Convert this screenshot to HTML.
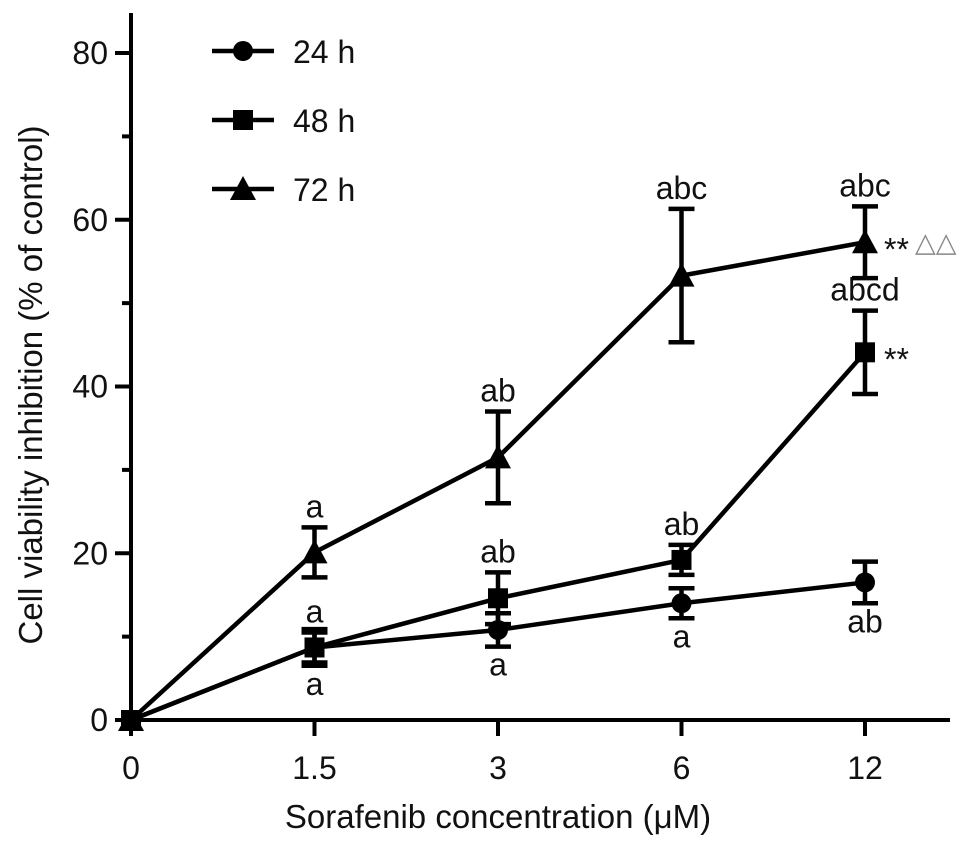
<!DOCTYPE html>
<html><head><meta charset="utf-8"><style>
html,body{margin:0;padding:0;background:#fff;}
svg text{font-family:"Liberation Sans",Arial,sans-serif;fill:#111;}
</style></head><body>
<svg id="chart" width="970" height="842" viewBox="0 0 970 842" xmlns="http://www.w3.org/2000/svg">
<g id="axes"></g>
<g id="series"></g>
<g id="legend"></g>
<text x="498" y="828" font-size="33" text-anchor="middle">Sorafenib concentration (μM)</text>
<text transform="translate(42,385) rotate(-90)" font-size="33" text-anchor="middle">Cell viability inhibition (% of control)</text>
</svg>
<script>
const categories = ["0","1.5","3","6","12"];
const yTicks = [0,20,40,60,80];
const yMinorTicks = [10,30,50,70];
const seriesNames = ["24 h","48 h","72 h"];
const values24 = [0, 8.7, 10.8, 14.0, 16.5];
const errors24 = [0, 2.2, 2.0, 1.8, 2.5];
const values48 = [0, 8.7, 14.6, 19.2, 44.1];
const errors48 = [0, 1.8, 3.1, 1.8, 5.0];
const values72 = [0, 20.1, 31.5, 53.3, 57.3];
const errors72 = [0, 3.0, 5.5, 8.0, 4.3];
const labels24 = ["", "a", "a", "a", "ab"];
const labels48 = ["", "a", "ab", "ab", "abcd"];
const labels72 = ["", "a", "ab", "abc", "abc"];
const NS = "http://www.w3.org/2000/svg";
const FS = 32;
const x = i => 131 + i * 183.5;
const y = v => 720 - v * 8.3375;
function mk(parent, tag, attrs){const e=document.createElementNS(NS,tag);for(const k in attrs)e.setAttribute(k,attrs[k]);parent.appendChild(e);return e;}
const axes=document.getElementById('axes');
let el=mk(axes,'line',{x1:131,y1:13,x2:131,y2:720,stroke:'#000','stroke-width':4});


el=mk(axes,'line',{x1:129,y1:720,x2:950,y2:720,stroke:'#000','stroke-width':4});


yTicks.forEach(t=>{
  let l=mk(axes,'line',{x1:115,y1:y(t),x2:131,y2:y(t),stroke:'#000','stroke-width':4});
  
  
  let tx=mk(axes,'text',{x:108,y:y(t)+11,'font-size':FS,'text-anchor':'end'});tx.textContent=t;
  
  
});
yMinorTicks.forEach(t=>{
  let l=mk(axes,'line',{x1:122,y1:y(t),x2:131,y2:y(t),stroke:'#000','stroke-width':4});
  
  
});
categories.forEach((c,i)=>{
  let l=mk(axes,'line',{x1:x(i),y1:720,x2:x(i),y2:736,stroke:'#000','stroke-width':4});
  
  
  let tx=mk(axes,'text',{x:x(i),y:779,'font-size':FS,'text-anchor':'middle'});tx.textContent=c;
  
  
});
function marker(g,shape,cx,cy){
  if(shape==='circle')return mk(g,'circle',{cx:cx,cy:cy,r:10,fill:'#000'});
  if(shape==='square')return mk(g,'rect',{x:cx-10,y:cy-10,width:20,height:20,fill:'#000'});
  return mk(g,'polygon',{points:`${cx},${cy-13} ${cx-13},${cy+11} ${cx+13},${cy+11}`,fill:'#000'});
}
const ser=document.getElementById('series');
const defs=[
  {vals:values24,errs:errors24,labs:labels24,shape:'circle',name:'series-24h',below:[0,1,1,1,1]},
  {vals:values48,errs:errors48,labs:labels48,shape:'square',name:'series-48h',below:[0,0,0,0,0]},
  {vals:values72,errs:errors72,labs:labels72,shape:'triangle',name:'series-72h',below:[0,0,0,0,0]}
];
defs.forEach(d=>{
  const g=mk(ser,'g',{});
  
  
  const pl=mk(g,'polyline',{points:d.vals.map((v,i)=>x(i)+','+y(v)).join(' '),fill:'none',stroke:'#000','stroke-width':4.5});
  
  
  d.vals.forEach((v,i)=>{
    if(d.errs[i]>0){
      const t=y(v+d.errs[i]),b=y(v-d.errs[i]);
      const eb=mk(g,'path',{d:`M${x(i)},${t}V${b}M${x(i)-13},${t}H${x(i)+13}M${x(i)-13},${b}H${x(i)+13}`,stroke:'#000','stroke-width':4.5,fill:'none'});
      
      
    }
    const m=marker(g,d.shape,x(i),y(v));
    
    
    if(d.labs[i]){
      const ly=d.below[i]? y(v-d.errs[i])+29 : y(v+d.errs[i])-10;
      const tx=mk(g,'text',{x:x(i),y:ly,'font-size':FS,'text-anchor':'middle'});tx.textContent=d.labs[i];
      
      
    }
  });
});
let s1=mk(ser,'text',{x:884,y:y(values72[4])+18,'font-size':32});s1.textContent='**';


let s2=mk(ser,'text',{x:915,y:y(values72[4])+9,'font-size':27,style:'fill:#888'});s2.textContent='△△';


let s3=mk(ser,'text',{x:884,y:y(values48[4])+18,'font-size':32});s3.textContent='**';


const lg=document.getElementById('legend');
['circle','square','triangle'].forEach((s,i)=>{
  const ly=51+i*69;
  const g=mk(lg,'g',{});
  
  
  mk(g,'line',{x1:212,y1:ly,x2:274,y2:ly,stroke:'#000','stroke-width':4.5});
  marker(g,s,243,ly);
  const tx=mk(g,'text',{x:293,y:ly+12,'font-size':FS});tx.textContent=seriesNames[i];
});
</script>
</body></html>
